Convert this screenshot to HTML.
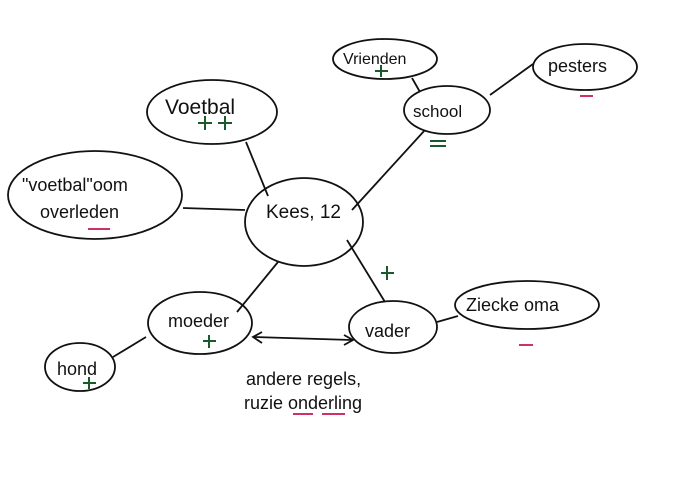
<!DOCTYPE html>
<html><head><style>body{margin:0;background:#fff}svg{display:block}text{font-family:"Liberation Sans",sans-serif;fill:#111}</style></head><body>
<svg width="682" height="504" viewBox="0 0 682 504" xmlns="http://www.w3.org/2000/svg">
<g fill="none" stroke="#111" stroke-width="1.8">
<ellipse cx="385" cy="59" rx="52" ry="20"/>
<ellipse cx="585" cy="67" rx="52" ry="23"/>
<ellipse cx="447" cy="110" rx="43" ry="24"/>
<ellipse cx="212" cy="112" rx="65" ry="32"/>
<ellipse cx="95" cy="195" rx="87" ry="44"/>
<ellipse cx="304" cy="222" rx="59" ry="44"/>
<ellipse cx="200" cy="323" rx="52" ry="31"/>
<ellipse cx="393" cy="327" rx="44" ry="26"/>
<ellipse cx="527" cy="305" rx="72" ry="24"/>
<ellipse cx="80" cy="367" rx="35" ry="24"/>
<path d="M246 142 L268 196 M183 208 L245 210 M352 210 L425 130 M412 78 L420 92 M490 95 L533 64 M278 262 L237 312 M347 240 L385 302 M437 322 L458 316 M113 357 L146 337 M254 337 L352 340"/>
<path d="M262 332 L253 337 L262 343 M344 335 L353 340 L344 345"/>
</g>
<g font-size="18">
<text x="343" y="64" font-size="16">Vrienden</text>
<text x="548" y="72">pesters</text>
<text x="413" y="117" font-size="17">school</text>
<text x="165" y="114" font-size="21">Voetbal</text>
<text x="22" y="191">"voetbal"oom</text>
<text x="40" y="218">overleden</text>
<text x="266" y="218" font-size="19">Kees, 12</text>
<text x="168" y="327">moeder</text>
<text x="365" y="337">vader</text>
<text x="466" y="311">Ziecke oma</text>
<text x="57" y="375">hond</text>
<text x="246" y="385">andere regels,</text>
<text x="244" y="409">ruzie onderling</text>
</g>
<g stroke="#1a5a2a" stroke-width="2">
<path d="M381 65 V77 M375 71 H388"/>
<path d="M205 116 V130 M198 123 H212 M225 116 V130 M218 123 H232"/>
<path d="M430 141 H446 M430 146 H446"/>
<path d="M387 266 V280 M381 273 H394"/>
<path d="M209 335 V348 M203 341 H216"/>
<path d="M89 377 V389 M83 383 H96"/>
</g>
<g stroke="#d0306a" stroke-width="2">
<path d="M580 96 H593 M88 229 H110 M519 345 H533 M293 414 H313 M322 414 H345"/>
</g>
</svg>
</body></html>
